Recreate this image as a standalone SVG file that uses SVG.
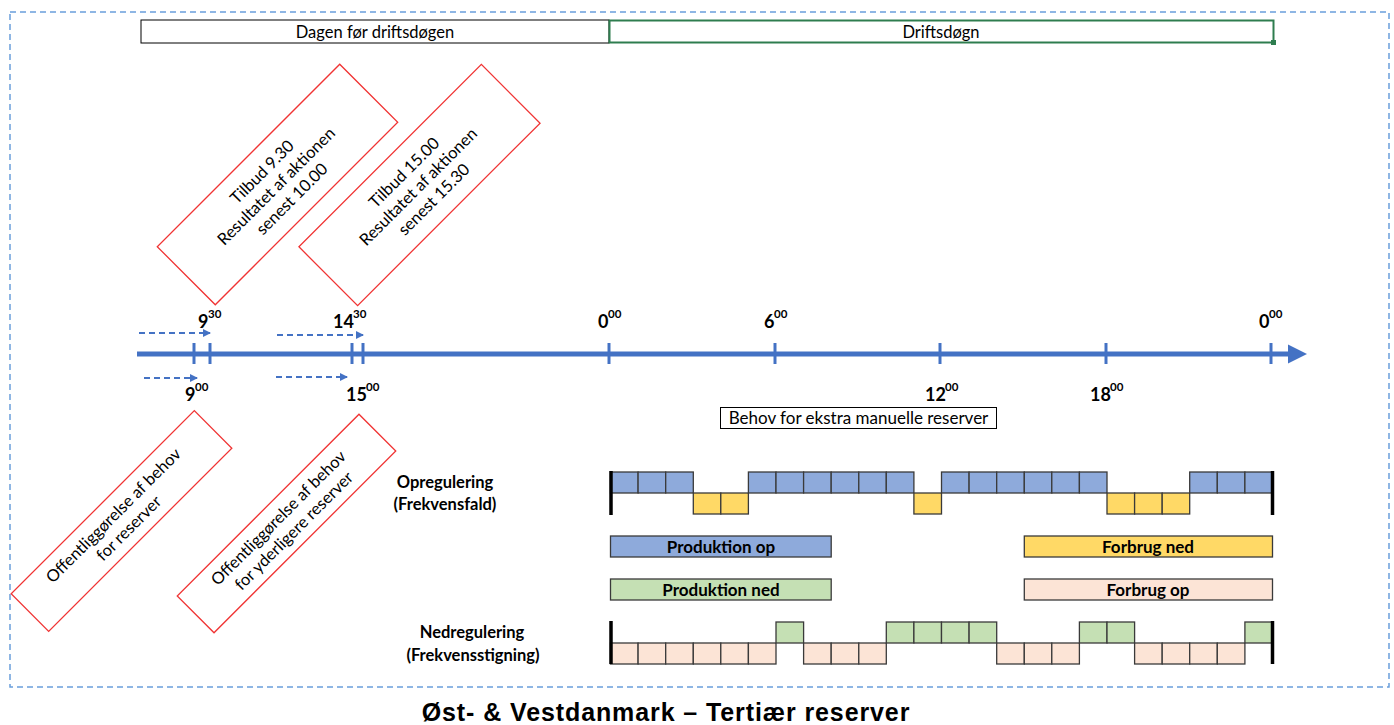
<svg xmlns="http://www.w3.org/2000/svg" width="1394" height="725" viewBox="0 0 1394 725">
  <style>
    .txt { font-family: Lato, "Open Sans", "DejaVu Sans", sans-serif; fill: #000; }
    .lbl { font-size: 16.5px; }
    .big { font-size: 17px; }
    .bold { font-weight: bold; }
    .hr { font-family: Lato, "Open Sans", sans-serif; font-weight: bold; font-size: 18px; fill: #000; }
    .sup { font-family: Lato, "Open Sans", sans-serif; font-weight: bold; font-size: 11.5px; fill: #000; }
    .note { fill: #fff; stroke: #f03434; stroke-width: 1.3; }
    .cell { stroke: #3a3a3a; stroke-width: 1.3; }
    .up { fill: #8eaadb; }
    .dn { fill: #ffd966; }
    .gn { fill: #c5e0b4; }
    .pk { fill: #fce4d6; }
    .tick { stroke: #4472c4; stroke-width: 3; }
    .dash { stroke: #4472c4; stroke-width: 2; stroke-dasharray: 6 4; fill: none; }
    .endbar { stroke: #000; stroke-width: 3.5; }
  </style>
  <defs>
    <marker id="ah" markerWidth="8" markerHeight="8" refX="7" refY="4" orient="auto" markerUnits="userSpaceOnUse">
      <path d="M0,0 L8,4 L0,8 Z" fill="#4472c4"/>
    </marker>
  </defs>

  <rect width="1394" height="725" fill="#fff"/>

  <!-- outer dashed frame -->
  <rect x="10" y="12" width="1379" height="675" fill="none" stroke="#6a9fdc" stroke-width="1.5" stroke-dasharray="6 4"/>

  <!-- day header -->
  <g id="day-before">
    <rect x="141" y="20" width="468" height="23" fill="#fff" stroke="#000" stroke-width="1"/>
    <text class="txt lbl" x="375" y="37.5" text-anchor="middle">Dagen før driftsdøgen</text>
  </g>
  <g id="operating-day">
    <rect x="609.5" y="20.5" width="664" height="22" fill="#fff" stroke="#2e7d4f" stroke-width="2"/>
    <rect x="1271" y="40" width="5" height="5" fill="#2e7d4f"/>
    <text class="txt lbl" x="941" y="37.5" text-anchor="middle">Driftsdøgn</text>
  </g>

  <!-- bid notes -->
  <g id="note-bid-0930" transform="translate(277.5,184.5) rotate(-45)">
    <rect class="note" x="-129" y="-41" width="258" height="82"/>
    <text class="txt lbl" text-anchor="middle">
      <tspan x="0" y="-14">Tilbud 9.30</tspan>
      <tspan x="0" y="6">Resultatet af aktionen</tspan>
      <tspan x="0" y="26">senest 10.00</tspan>
    </text>
  </g>
  <g id="note-bid-1500" transform="translate(419.5,185) rotate(-45)">
    <rect class="note" x="-129" y="-41.5" width="258" height="83"/>
    <text class="txt lbl" text-anchor="middle">
      <tspan x="0" y="-14">Tilbud 15.00</tspan>
      <tspan x="0" y="6">Resultatet af aktionen</tspan>
      <tspan x="0" y="26">senest 15.30</tspan>
    </text>
  </g>

  <!-- publication notes -->
  <g id="note-pub-reserves" transform="translate(121.5,521) rotate(-45)">
    <rect class="note" x="-129.5" y="-26.5" width="259" height="53"/>
    <text class="txt lbl" text-anchor="middle">
      <tspan x="0" y="-4">Offentliggørelse af behov</tspan>
      <tspan x="0" y="16">for reserver</tspan>
    </text>
  </g>
  <g id="note-pub-extra" transform="translate(286.5,523.5) rotate(-45)">
    <rect class="note" x="-128.5" y="-26" width="257" height="52"/>
    <text class="txt lbl" text-anchor="middle">
      <tspan x="0" y="-4">Offentliggørelse af behov</tspan>
      <tspan x="0" y="16">for yderligere reserver</tspan>
    </text>
  </g>

  <!-- time axis -->
  <g id="timeline">
    <line x1="137" y1="354" x2="1292" y2="354" stroke="#4472c4" stroke-width="5"/>
    <polygon points="1288,344.5 1307,354 1288,363.5" fill="#4472c4"/>
    <line class="tick" x1="194" y1="343" x2="194" y2="364"/>
    <line class="tick" x1="210" y1="343" x2="210" y2="364"/>
    <line class="tick" x1="352" y1="343" x2="352" y2="364"/>
    <line class="tick" x1="363" y1="343" x2="363" y2="364"/>
    <line class="tick" x1="609" y1="343" x2="609" y2="364"/>
    <line class="tick" x1="775" y1="343" x2="775" y2="364"/>
    <line class="tick" x1="940" y1="343" x2="940" y2="364"/>
    <line class="tick" x1="1106" y1="343" x2="1106" y2="364"/>
    <line class="tick" x1="1271" y1="343" x2="1271" y2="364"/>

    <text class="hr" x="198" y="328">9</text><text class="sup" x="208" y="318">30</text>
    <text class="hr" x="333" y="328">14</text><text class="sup" x="353" y="318">30</text>
    <text class="hr" x="598" y="328">0</text><text class="sup" x="608" y="318">00</text>
    <text class="hr" x="764" y="328">6</text><text class="sup" x="774" y="318">00</text>
    <text class="hr" x="1259" y="328">0</text><text class="sup" x="1269" y="318">00</text>

    <text class="hr" x="185" y="401">9</text><text class="sup" x="195" y="391">00</text>
    <text class="hr" x="346" y="401">15</text><text class="sup" x="366" y="391">00</text>
    <text class="hr" x="925" y="401">12</text><text class="sup" x="945" y="391">00</text>
    <text class="hr" x="1090" y="401">18</text><text class="sup" x="1110" y="391">00</text>
  </g>

  <!-- lead-time arrows -->
  <g id="connectors">
    <line class="dash" x1="139" y1="333" x2="210" y2="333" marker-end="url(#ah)"/>
    <line class="dash" x1="277" y1="335" x2="363" y2="335" marker-end="url(#ah)"/>
    <line class="dash" x1="144" y1="378" x2="197" y2="378" marker-end="url(#ah)"/>
    <line class="dash" x1="276" y1="377" x2="347" y2="377" marker-end="url(#ah)"/>
  </g>

  <g id="extra-need">
    <rect x="720.5" y="407.5" width="276" height="21" fill="#fff" stroke="#000" stroke-width="1"/>
    <text class="txt big" x="858.5" y="424" text-anchor="middle">Behov for ekstra manuelle reserver</text>
  </g>

  <!-- upward regulation row -->
  <g id="up-label">
    <text class="txt lbl bold" x="445" y="488" text-anchor="middle">Opregulering</text>
    <text class="txt lbl bold" x="445" y="510" text-anchor="middle">(Frekvensfald)</text>
  </g>
  <g id="up-row">
    <rect class="cell up" x="610.5" y="472" width="27.6" height="21"/>
    <rect class="cell up" x="638.1" y="472" width="27.6" height="21"/>
    <rect class="cell up" x="665.7" y="472" width="27.6" height="21"/>
    <rect class="cell dn" x="693.3" y="493" width="27.5" height="21"/>
    <rect class="cell dn" x="720.8" y="493" width="27.6" height="21"/>
    <rect class="cell up" x="748.4" y="472" width="27.6" height="21"/>
    <rect class="cell up" x="776.0" y="472" width="27.6" height="21"/>
    <rect class="cell up" x="803.6" y="472" width="27.6" height="21"/>
    <rect class="cell up" x="831.2" y="472" width="27.6" height="21"/>
    <rect class="cell up" x="858.8" y="472" width="27.5" height="21"/>
    <rect class="cell up" x="886.3" y="472" width="27.6" height="21"/>
    <rect class="cell dn" x="913.9" y="493" width="27.6" height="21"/>
    <rect class="cell up" x="941.5" y="472" width="27.6" height="21"/>
    <rect class="cell up" x="969.1" y="472" width="27.6" height="21"/>
    <rect class="cell up" x="996.7" y="472" width="27.6" height="21"/>
    <rect class="cell up" x="1024.3" y="472" width="27.5" height="21"/>
    <rect class="cell up" x="1051.8" y="472" width="27.6" height="21"/>
    <rect class="cell up" x="1079.4" y="472" width="27.6" height="21"/>
    <rect class="cell dn" x="1107.0" y="493" width="27.6" height="21"/>
    <rect class="cell dn" x="1134.6" y="493" width="27.6" height="21"/>
    <rect class="cell dn" x="1162.2" y="493" width="27.5" height="21"/>
    <rect class="cell up" x="1189.7" y="472" width="27.6" height="21"/>
    <rect class="cell up" x="1217.3" y="472" width="27.6" height="21"/>
    <rect class="cell up" x="1244.9" y="472" width="27.6" height="21"/>
    <line class="endbar" x1="611" y1="471" x2="611" y2="515"/>
    <line class="endbar" x1="1272.5" y1="471" x2="1272.5" y2="515"/>
  </g>

  <!-- legend -->
  <g id="legend-prod-up">
    <rect class="cell up" x="610.5" y="536" width="220.7" height="21"/>
    <text class="txt big bold" x="721" y="552.5" text-anchor="middle">Produktion op</text>
  </g>
  <g id="legend-cons-down">
    <rect class="cell dn" x="1024.3" y="536" width="248.2" height="21"/>
    <text class="txt big bold" x="1148" y="552.5" text-anchor="middle">Forbrug ned</text>
  </g>
  <g id="legend-prod-down">
    <rect class="cell gn" x="610.5" y="579" width="220.7" height="21"/>
    <text class="txt big bold" x="721" y="595.5" text-anchor="middle">Produktion ned</text>
  </g>
  <g id="legend-cons-up">
    <rect class="cell pk" x="1024.3" y="579" width="248.2" height="21"/>
    <text class="txt big bold" x="1148" y="595.5" text-anchor="middle">Forbrug op</text>
  </g>

  <!-- downward regulation row -->
  <g id="down-label">
    <text class="txt lbl bold" x="472" y="638" text-anchor="middle">Nedregulering</text>
    <text class="txt lbl bold" x="473" y="661" text-anchor="middle">(Frekvensstigning)</text>
  </g>
  <g id="down-row">
    <rect class="cell pk" x="610.5" y="643" width="27.6" height="21"/>
    <rect class="cell pk" x="638.1" y="643" width="27.6" height="21"/>
    <rect class="cell pk" x="665.7" y="643" width="27.6" height="21"/>
    <rect class="cell pk" x="693.3" y="643" width="27.5" height="21"/>
    <rect class="cell pk" x="720.8" y="643" width="27.6" height="21"/>
    <rect class="cell pk" x="748.4" y="643" width="27.6" height="21"/>
    <rect class="cell gn" x="776.0" y="622" width="27.6" height="21"/>
    <rect class="cell pk" x="803.6" y="643" width="27.6" height="21"/>
    <rect class="cell pk" x="831.2" y="643" width="27.6" height="21"/>
    <rect class="cell pk" x="858.8" y="643" width="27.5" height="21"/>
    <rect class="cell gn" x="886.3" y="622" width="27.6" height="21"/>
    <rect class="cell gn" x="913.9" y="622" width="27.6" height="21"/>
    <rect class="cell gn" x="941.5" y="622" width="27.6" height="21"/>
    <rect class="cell gn" x="969.1" y="622" width="27.6" height="21"/>
    <rect class="cell pk" x="996.7" y="643" width="27.6" height="21"/>
    <rect class="cell pk" x="1024.3" y="643" width="27.5" height="21"/>
    <rect class="cell pk" x="1051.8" y="643" width="27.6" height="21"/>
    <rect class="cell gn" x="1079.4" y="622" width="27.6" height="21"/>
    <rect class="cell gn" x="1107.0" y="622" width="27.6" height="21"/>
    <rect class="cell pk" x="1134.6" y="643" width="27.6" height="21"/>
    <rect class="cell pk" x="1162.2" y="643" width="27.5" height="21"/>
    <rect class="cell pk" x="1189.7" y="643" width="27.6" height="21"/>
    <rect class="cell pk" x="1217.3" y="643" width="27.6" height="21"/>
    <rect class="cell gn" x="1244.9" y="622" width="27.6" height="21"/>
    <line class="endbar" x1="611" y1="621" x2="611" y2="664"/>
    <line class="endbar" x1="1272.5" y1="621" x2="1272.5" y2="664"/>
  </g>

  <!-- caption -->
  <text x="666" y="721" text-anchor="middle" font-family="'Liberation Sans', Arial, sans-serif" font-weight="bold" font-size="25" letter-spacing="0.9" fill="#000">Øst- &amp; Vestdanmark – Tertiær reserver</text>
</svg>
